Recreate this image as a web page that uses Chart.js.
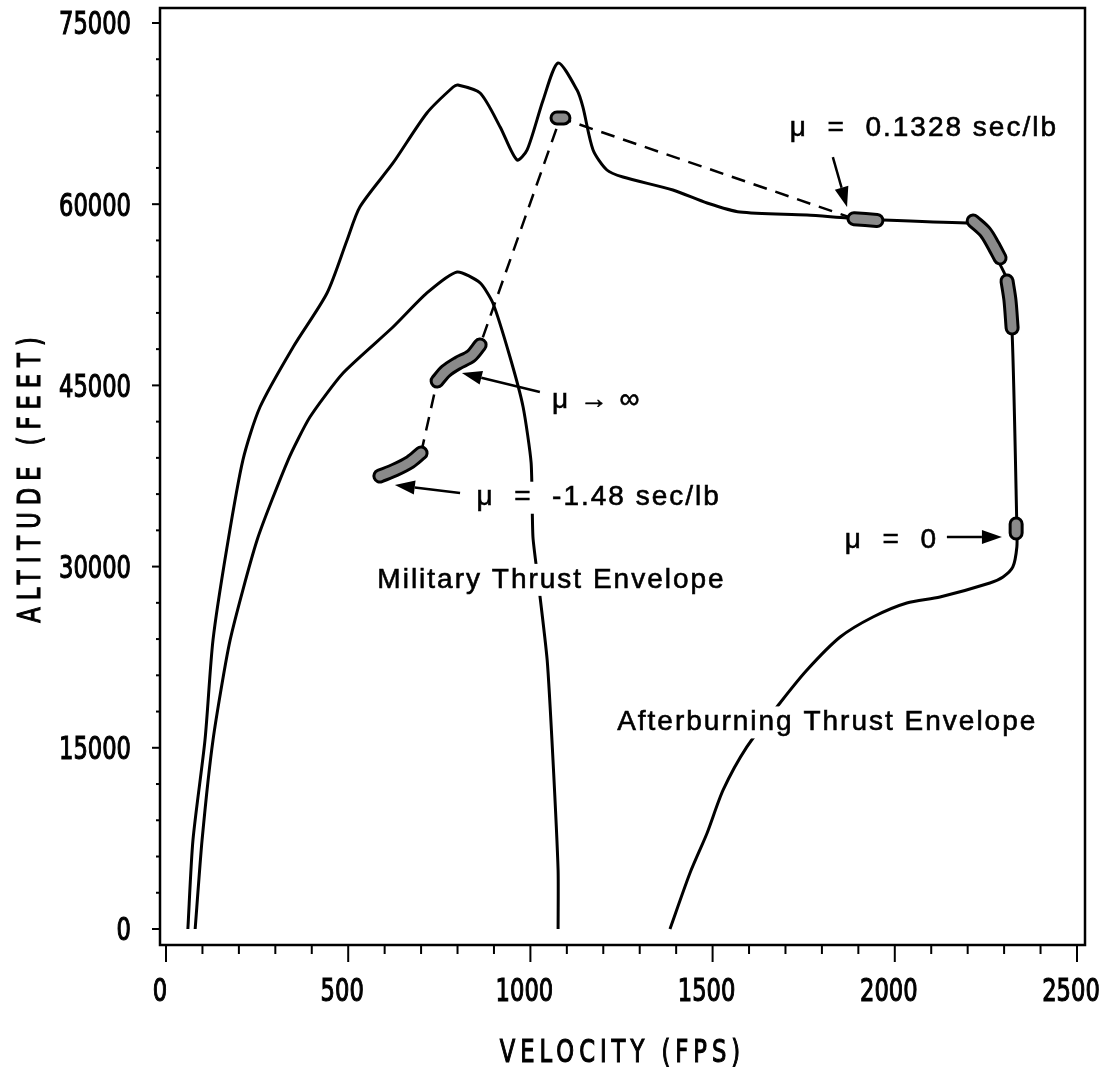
<!DOCTYPE html>
<html>
<head>
<meta charset="utf-8">
<script src="https://cdn.jsdelivr.net/npm/chart.js@4.4.1/dist/chart.umd.min.js"></script>
<style>
  html, body { margin: 0; padding: 0; background: #fff; }
  #wrap { width: 1111px; height: 1071px; position: relative; }
</style>
</head>
<body>
<div id="wrap"><canvas id="grafico"></canvas></div>
<script>
// ==================================================
// ENVELOPES DE EMPUXO + TRAJETÓRIA (VELOCIDADE x ALTITUDE)
// ==================================================

// Envelope com pós-combustão (afterburning)
const abFps = [60, 74, 107, 129, 167, 211, 258, 349, 442, 497, 532, 623, 716, 788, 801, 862, 917, 963, 991, 1035, 1076, 1128, 1144, 1172, 1210, 1254, 1391, 1485, 1575, 1759, 1869, 1968, 2198, 2212, 2261, 2283, 2308, 2322, 2335, 2335, 2324, 2297, 2261, 2124, 2033, 1940, 1850, 1759, 1685, 1594, 1529, 1485, 1438, 1383];
const abAlt = [0, 7370, 15650, 23930, 31540, 38820, 43210, 48180, 52650, 57040, 59770, 63410, 67550, 69700, 69870, 69200, 66390, 63660, 64490, 68630, 71690, 69450, 68050, 64490, 62830, 62250, 61170, 60100, 59350, 59110, 58860, 58690, 58440, 58530, 57280, 55380, 53720, 49340, 33280, 31620, 29970, 29140, 28640, 27480, 26990, 25830, 24170, 21440, 18710, 15070, 11510, 7950, 4640, 0];

// Envelope militar
const milFps = [80, 99, 129, 176, 250, 335, 395, 486, 623, 716, 799, 862, 897, 944, 980, 1002, 1007, 1021, 1046, 1062, 1076, 1076];
const milAlt = [0, 7370, 15650, 23930, 32200, 38820, 42380, 46030, 49830, 52650, 54390, 53480, 51820, 47350, 43210, 38580, 32450, 28890, 22270, 13990, 4880, 0];

// Trajetória tracejada entre os grupos de pontos
const trajFps = [700, 744, 862, 1082, 1888];
const trajAlt = [39400, 45360, 48340, 67140, 58800];

// Grupos de pontos da trajetória (null separa os grupos)
const grupoFps = [587, 628, 670, 700, null, 744, 768, 801, 837, 862, null, 1073, 1092, null, 1888, 1951, null, 2215, 2248, 2270, 2289, null, 2308, 2316, 2322, null, 2333, 2333];
const grupoAlt = [37500, 38000, 38660, 39400, null, 45360, 46190, 46850, 47430, 48340, null, 67140, 67140, null, 58800, 58650, null, 58610, 57700, 56620, 55550, null, 53640, 52070, 49750, null, 33530, 32780];

// Eixos
const ticksX = [0, 500, 1000, 1500, 2000, 2500];
const ticksY = [0, 15000, 30000, 45000, 60000, 75000];
const ticksMenoresX = [100, 200, 300, 400, 600, 700, 800, 900, 1100, 1200, 1300, 1400, 1600, 1700, 1800, 1900, 2100, 2200, 2300, 2400];
const ticksMenoresY = [3000, 6000, 9000, 12000, 18000, 21000, 24000, 27000, 33000, 36000, 39000, 42000, 48000, 51000, 54000, 57000, 63000, 66000, 69000, 72000];
const tituloX = 'VELOCITY (FPS)';
const tituloY = 'ALTITUDE (FEET)';

// Anotações (ancoradas em coordenadas do gráfico)
const rotulos = [
    { texto: 'μ  =  0.1328 sec/lb', fps: 1712, alt: 66300 },
    { texto: 'μ → ∞', fps: 1059, alt: 43800 },
    { texto: 'μ  =  -1.48 sec/lb', fps: 852, alt: 35700 },
    { texto: 'μ  =  0', fps: 1863, alt: 32200 },
    { texto: 'Military Thrust Envelope', fps: 580, alt: 28900 },
    { texto: 'Afterburning Thrust Envelope', fps: 1238, alt: 17100 }
];
const setas = [
    { de: [1830, 63900], para: [1869, 59770] },
    { de: [1026, 44450], para: [812, 46030] },
    { de: [807, 36090], para: [628, 36750] },
    { de: [2143, 32450], para: [2294, 32450] }
];

function pares(xs, ys) {
    return xs.map((v, i) => ({ x: v, y: ys[i] }));
}

const FONTE_EIXO = "'DejaVu Sans Condensed', 'DejaVu Sans', sans-serif";
const FONTE_TEXTO = "'Liberation Sans', Arial, sans-serif";

/**
 * Escreve texto comprimido na horizontal (fonte de plotter, estreita)
 */
function textoEstreito(ctx, texto, x, y, sx, espaco, rot) {
    ctx.save();
    ctx.translate(x, y);
    if (rot) ctx.rotate(rot);
    ctx.scale(sx, 1);
    ctx.letterSpacing = (espaco / sx) + 'px';
    ctx.lineWidth = 1.1;
    ctx.fillText(texto, 0, 0);
    ctx.strokeText(texto, 0, 0);
    ctx.restore();
}

/**
 * Desenha moldura, marcas e textos dos eixos, setas e rótulos
 */
const molduraPlugin = {
    id: 'moldura',
    afterDatasetsDraw(chart) {
        const { ctx, chartArea: a, scales: { x, y } } = chart;
        ctx.save();
        ctx.strokeStyle = '#000';
        ctx.fillStyle = '#000';

        // Setas
        ctx.lineWidth = 2.5;
        setas.forEach(s => {
            const x0 = x.getPixelForValue(s.de[0]), y0 = y.getPixelForValue(s.de[1]);
            const x1 = x.getPixelForValue(s.para[0]), y1 = y.getPixelForValue(s.para[1]);
            const ang = Math.atan2(y1 - y0, x1 - x0);
            const comp = 20, larg = 7;
            const bx = x1 - comp * Math.cos(ang), by = y1 - comp * Math.sin(ang);
            ctx.beginPath();
            ctx.moveTo(x0, y0);
            ctx.lineTo(bx, by);
            ctx.stroke();
            ctx.beginPath();
            ctx.moveTo(x1, y1);
            ctx.lineTo(bx + larg * Math.sin(ang), by - larg * Math.cos(ang));
            ctx.lineTo(bx - larg * Math.sin(ang), by + larg * Math.cos(ang));
            ctx.closePath();
            ctx.fill();
        });

        // Rótulos com fundo branco (interrompem as curvas)
        ctx.font = '28px ' + FONTE_TEXTO;
        ctx.letterSpacing = '2px';
        ctx.textBaseline = 'middle';
        ctx.textAlign = 'left';
        ctx.lineWidth = 0.6;
        rotulos.forEach(r => {
            const px = x.getPixelForValue(r.fps), py = y.getPixelForValue(r.alt);
            const w = ctx.measureText(r.texto).width;
            ctx.fillStyle = '#fff';
            ctx.fillRect(px - 4, py - 16, w + 8, 32);
            ctx.fillStyle = '#000';
            ctx.fillText(r.texto, px, py);
            ctx.strokeText(r.texto, px, py);
        });
        ctx.letterSpacing = '0px';

        // Moldura
        ctx.lineWidth = 2.5;
        ctx.strokeRect(a.left, a.top, a.right - a.left, a.bottom - a.top);

        // Marcas dos eixos
        ctx.lineWidth = 2;
        const marcaX = (v, len) => {
            const px = x.getPixelForValue(v);
            ctx.beginPath(); ctx.moveTo(px, a.bottom); ctx.lineTo(px, a.bottom + len); ctx.stroke();
        };
        const marcaY = (v, len) => {
            const py = y.getPixelForValue(v);
            ctx.beginPath(); ctx.moveTo(a.left, py); ctx.lineTo(a.left - len, py); ctx.stroke();
        };
        ticksX.forEach(v => marcaX(v, 17));
        ticksMenoresX.forEach(v => marcaX(v, 9));
        ticksY.forEach(v => marcaY(v, 8));
        ticksMenoresY.forEach(v => marcaY(v, 4));

        // Textos dos eixos (fonte estreita)
        ctx.font = '32px ' + FONTE_EIXO;
        ctx.textBaseline = 'alphabetic';
        const sx = 14.4 / ctx.measureText('0').width;
        ctx.textAlign = 'center';
        ticksX.forEach(v => {
            textoEstreito(ctx, String(v), x.getPixelForValue(v) - 6, a.bottom + 56, sx, 0);
        });
        ctx.textAlign = 'right';
        ticksY.forEach(v => {
            textoEstreito(ctx, String(v), a.left - 29, y.getPixelForValue(v) + 11.5, sx, 0);
        });
        ctx.textAlign = 'center';
        textoEstreito(ctx, tituloX, (a.left + a.right) / 2, a.bottom + 117, sx, 5);
        textoEstreito(ctx, tituloY, 40, (a.top + a.bottom) / 2, sx, 7, -Math.PI / 2);

        ctx.restore();
    }
};

// Zera o espaço extra que o Chart.js reserva para os rótulos
function semMargens(s) {
    s.paddingLeft = 0; s.paddingRight = 0; s.paddingTop = 0; s.paddingBottom = 0;
}

const ctx = document.getElementById('grafico').getContext('2d');

new Chart(ctx, {
    type: 'scatter',
    data: {
        datasets: [
            {
                label: 'Grupos (preenchimento)',
                data: pares(grupoFps, grupoAlt),
                showLine: true,
                borderColor: '#8a8a8a',
                borderWidth: 9,
                borderCapStyle: 'round',
                borderJoinStyle: 'round',
                pointRadius: 0,
                tension: 0.3,
                order: 0
            },
            {
                label: 'Grupos (contorno)',
                data: pares(grupoFps, grupoAlt),
                showLine: true,
                borderColor: '#000',
                borderWidth: 15,
                borderCapStyle: 'round',
                borderJoinStyle: 'round',
                pointRadius: 0,
                tension: 0.3,
                order: 1
            },
            {
                label: 'Trajetória',
                data: pares(trajFps, trajAlt),
                showLine: true,
                borderColor: '#000',
                borderWidth: 2.5,
                borderDash: [14, 9],
                pointRadius: 0,
                order: 2
            },
            {
                label: 'Afterburning Thrust Envelope',
                data: pares(abFps, abAlt),
                showLine: true,
                borderColor: '#000',
                borderWidth: 3,
                pointRadius: 0,
                tension: 0.25,
                order: 3
            },
            {
                label: 'Military Thrust Envelope',
                data: pares(milFps, milAlt),
                showLine: true,
                borderColor: '#000',
                borderWidth: 3,
                pointRadius: 0,
                tension: 0.2,
                order: 3
            }
        ]
    },
    options: {
        responsive: true,
        maintainAspectRatio: false,
        animation: false,
        layout: { padding: { top: 8, right: 26, left: 0, bottom: 0 } },
        plugins: {
            legend: { display: false },
            tooltip: { enabled: false }
        },
        scales: {
            x: {
                type: 'linear',
                min: -16.5,
                max: 2522,
                afterFit: s => { s.height = 126; semMargens(s); },
                grid: { display: false, drawTicks: false },
                border: { display: false },
                ticks: { display: false }
            },
            y: {
                type: 'linear',
                min: -1325,
                max: 76240,
                afterFit: s => { s.width = 160; semMargens(s); },
                grid: { display: false, drawTicks: false },
                border: { display: false },
                ticks: { display: false }
            }
        }
    },
    plugins: [molduraPlugin]
});
</script>
</body>
</html>
